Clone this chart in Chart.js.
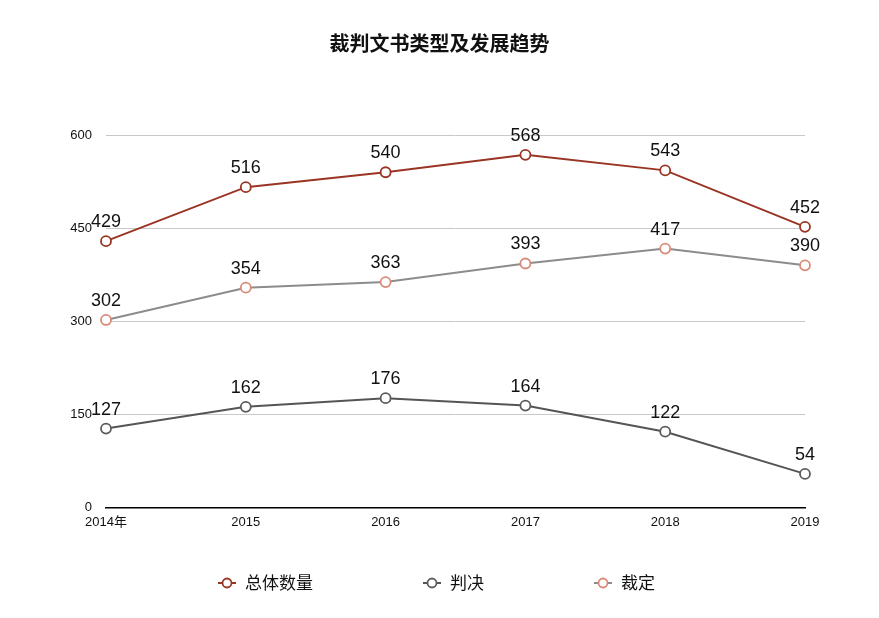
<!DOCTYPE html>
<html>
<head>
<meta charset="utf-8">
<script src="https://cdn.jsdelivr.net/npm/chart.js@4/dist/chart.umd.min.js"></script>
<style>
  html, body { margin: 0; padding: 0; background: #fff; }
  #wrap { width: 879px; height: 618px; }
</style>
</head>
<body>
<div id="wrap"><canvas id="myChart" width="879" height="618"></canvas></div>
<script>
// data
const years = ["2014年", "2015", "2016", "2017", "2018", "2019"];
const totalCount = [429, 516, 540, 568, 543, 452];
const judgments = [127, 162, 176, 164, 122, 54];
const rulings = [302, 354, 363, 393, 417, 390];
const yTicks = [0, 150, 300, 450, 600];

const fontLatin = "'Liberation Sans', Arial, Helvetica, 'Noto Sans CJK SC', sans-serif";
const fontCJK = "'Noto Sans CJK SC', 'Liberation Sans', sans-serif";

const series = [
    { label: "总体数量", data: totalCount, line: "#9a3524", point: "#9a3524" },
    { label: "判决", data: judgments, line: "#555555", point: "#5c5c5c" },
    { label: "裁定", data: rulings, line: "#8c8c8c", point: "#d98a78" }
];

// value labels above every point
const valueLabels = {
    id: 'valueLabels',
    afterDatasetsDraw(chart) {
        const ctx = chart.ctx;
        ctx.save();
        ctx.font = '18px ' + fontLatin;
        ctx.fillStyle = '#111';
        ctx.textAlign = 'center';
        ctx.textBaseline = 'middle';
        chart.data.datasets.forEach((ds, i) => {
            chart.getDatasetMeta(i).data.forEach((pt, j) => {
                ctx.fillText(ds.data[j], pt.x, pt.y - 19);
            });
        });
        ctx.restore();
    }
};

// legend along the bottom: line + hollow circle, then the name
const bottomLegend = {
    id: 'bottomLegend',
    afterDraw(chart) {
        const ctx = chart.ctx;
        const y = 583;
        const markW = 18, textGap = 9, itemGap = 110;
        ctx.save();
        ctx.font = '17px ' + fontCJK;
        const widths = chart.data.datasets.map(ds => markW + textGap + ctx.measureText(ds.label).width);
        const total = widths.reduce((a, b) => a + b, 0) + itemGap * (widths.length - 1);
        let x = chart.width / 2 - total / 2 - 3;
        chart.data.datasets.forEach((ds, i) => {
            ctx.strokeStyle = ds.borderColor;
            ctx.lineWidth = 2;
            ctx.beginPath(); ctx.moveTo(x, y); ctx.lineTo(x + markW, y); ctx.stroke();
            ctx.fillStyle = '#fff';
            ctx.strokeStyle = ds.pointBorderColor;
            ctx.lineWidth = 1.8;
            ctx.beginPath(); ctx.arc(x + markW / 2, y, 4.5, 0, Math.PI * 2); ctx.fill(); ctx.stroke();
            ctx.fillStyle = '#111';
            ctx.textAlign = 'left';
            ctx.textBaseline = 'middle';
            ctx.fillText(ds.label, x + markW + textGap, y);
            x += widths[i] + itemGap;
        });
        ctx.restore();
    }
};

new Chart("myChart", {
    type: "line",
    data: {
        labels: years,
        datasets: series.map(s => ({
            label: s.label,
            data: s.data,
            borderColor: s.line,
            borderWidth: 2,
            pointBorderColor: s.point,
            pointBackgroundColor: "#fff",
            pointBorderWidth: 1.8,
            pointRadius: 5,
            tension: 0
        }))
    },
    options: {
        responsive: false,
        animation: false,
        layout: { padding: { left: 0, right: 0, top: 0, bottom: 81 } },
        plugins: {
            title: {
                display: true,
                text: "裁判文书类型及发展趋势",
                color: "#111",
                font: { family: fontCJK, size: 20, weight: "bold" },
                padding: { top: 31, bottom: 80 }
            },
            legend: { display: false },
            tooltip: { enabled: false }
        },
        scales: {
            x: {
                offset: false,
                grid: { display: false, drawTicks: false },
                border: { color: "#000", width: 1.5 },
                ticks: { color: "#111", font: { family: fontLatin, size: 13 }, padding: 7, maxRotation: 0 }
            },
            y: {
                min: 0,
                max: 600,
                afterBuildTicks(scale) { scale.ticks = yTicks.map(v => ({ value: v })); },
                afterFit(scale) { scale.width = 106; },
                grid: { color: "#c8c8c8", drawTicks: false },
                border: { display: false },
                ticks: { color: "#111", font: { family: fontLatin, size: 13 }, padding: 14 }
            },
            // empty axis that only keeps a margin on the right
            spacer: {
                position: "right",
                afterFit(scale) { scale.width = 74; },
                grid: { display: false, drawTicks: false },
                border: { display: false },
                ticks: { display: false }
            }
        }
    },
    plugins: [valueLabels, bottomLegend]
});
</script>
</body>
</html>
